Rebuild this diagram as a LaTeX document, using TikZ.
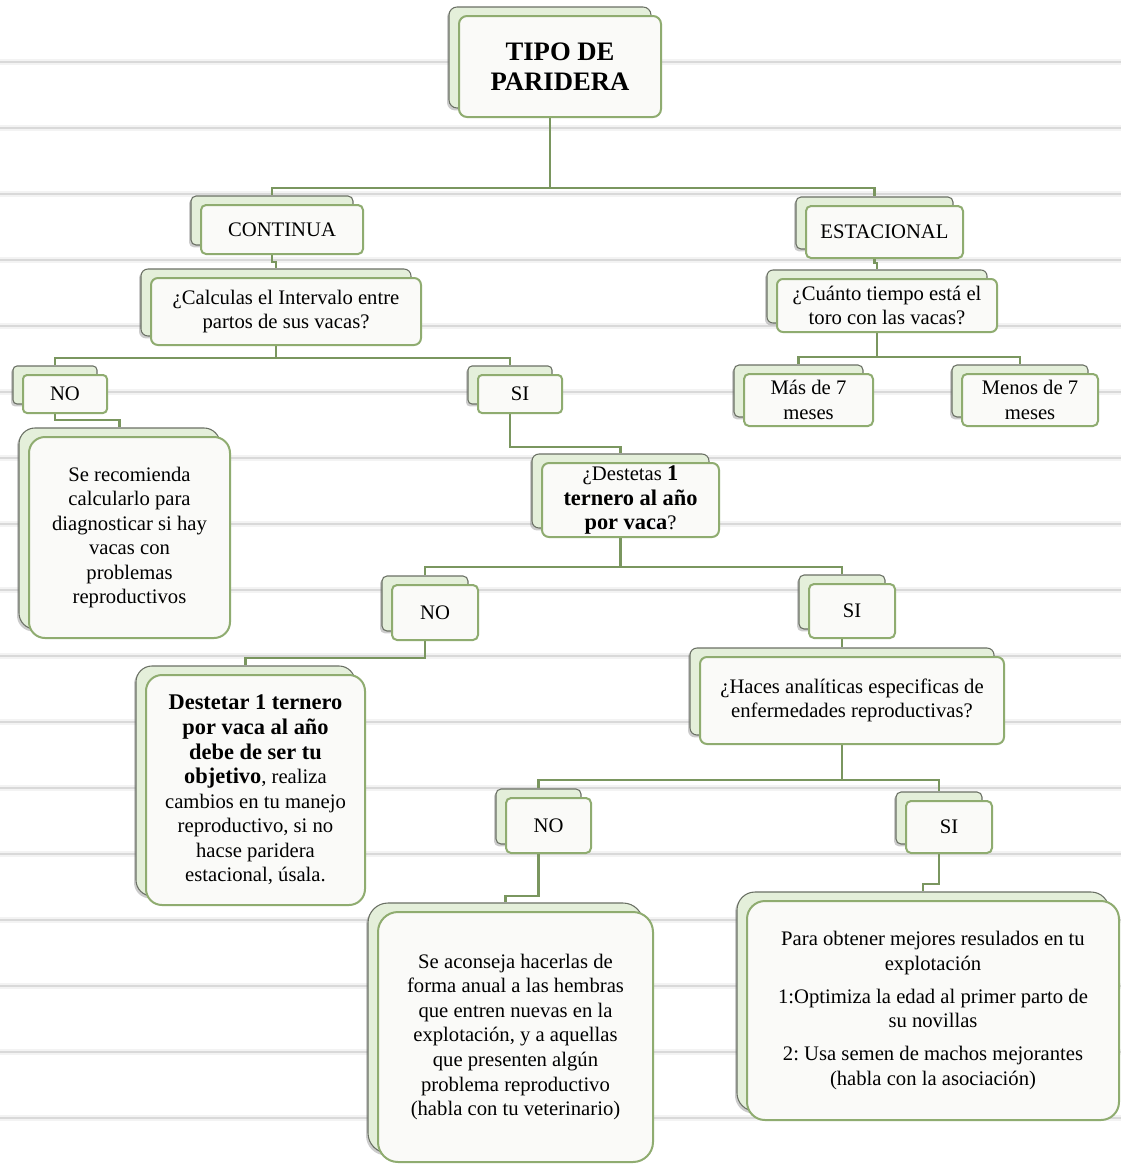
\documentclass[tikz,border=0pt]{standalone}
\usepackage{fontspec}
\setmainfont{Liberation Serif}
\usetikzlibrary{shadows}
\definecolor{boxgreen}{HTML}{8FAC70}
\definecolor{backfill}{HTML}{E4EFDA}
\definecolor{backline}{HTML}{6A7064}
\definecolor{connc}{HTML}{7A965F}
\definecolor{paperc}{HTML}{D9D9D9}
\definecolor{paperhalo}{HTML}{F3F3F3}
\definecolor{frontfill}{HTML}{FAFAF8}
\pgfdeclarelayer{paperlayer}
\pgfdeclarelayer{connlayer}
\pgfsetlayers{paperlayer,connlayer,main}
\frenchspacing
\tikzset{
  backbox/.style={draw=backline, fill=backfill, line width=0.8pt, inner sep=0pt,
    drop shadow={shadow xshift=-1.5pt, shadow yshift=-1.8pt, opacity=0.4}},
  frontbox/.style={draw=boxgreen, fill=frontfill, line width=1.5pt, inner sep=0pt,
    align=center, font=\fontsize{15.5}{18.4}\selectfont},
  connline/.style={draw=connc, line width=2.2pt},
  paperhaloline/.style={draw=paperhalo, line width=5pt},
  paperline/.style={draw=paperc, line width=1.5pt}
}
\newcommand\bigb[1]{{\fontsize{16.8}{18.4}\selectfont\bfseries #1}}
% name, x1, y1, x2, y2, radius(px), extra style, text
\newcommand\stk[8]{%
  \pgfmathsetmacro\stkw{(#4-#2)*0.75}%
  \pgfmathsetmacro\stkh{(#5-#3)*0.75}%
  \pgfmathsetmacro\stkr{#6*0.75}%
  \node[backbox, minimum width=\stkw pt, minimum height=\stkh pt,
        rounded corners=\stkr pt] (#1b) at ({(#2+#4)/2-10},{(#3+#5)/2-9}) {};
  \node[frontbox, minimum width=\stkw pt, minimum height=\stkh pt,
        rounded corners=\stkr pt, #7] (#1) at ({(#2+#4)/2},{(#3+#5)/2}) {#8};
}
\newcommand\conn[3]{%
  \draw[connline] (#1.south) -- (#1.south |- 0,#2) -| (#3.north);
}
\begin{document}
\begin{tikzpicture}[x=0.75pt,y=-0.75pt]
\useasboundingbox (0,0) rectangle (1121,1164);
\begin{pgfonlayer}{paperlayer}
  \fill[white] (0,0) rectangle (1121,1164);
  \foreach \yy in {62,128,...,1120} {
    \draw[paperhaloline] (0,\yy) -- (1121,\yy);
    \draw[paperline] (0,\yy) -- (1121,\yy);
  }
\end{pgfonlayer}

\stk{tipo}{459}{16}{661}{117}{8}{font=\fontsize{20}{22.5}\selectfont\bfseries}{TIPO DE\\PARIDERA}
\stk{cont}{201}{205}{363}{254}{5}{}{CONTINUA}
\stk{esta}{806}{206}{963}{258}{5}{}{ESTACIONAL}
\stk{calc}{151}{278}{421}{345}{7}{}{¿Calculas el Intervalo entre\\partos de sus vacas?}
\stk{cuan}{777}{279}{997}{332}{6}{}{¿Cuánto tiempo está el\\toro con las vacas?}
\stk{noa}{23}{375}{107}{413}{4}{}{NO}
\stk{sia}{478}{375}{562}{413}{4}{}{SI}
\stk{mas}{744}{374}{873}{426}{5}{}{Más de 7\\meses}
\stk{menos}{962}{374}{1098}{426}{5}{}{Menos de 7\\meses}
\stk{reco}{29}{437}{230}{638}{16}{}{Se recomienda\\calcularlo para\\diagnosticar si hay\\vacas con\\problemas\\reproductivos}
\stk{dest}{542}{463}{719}{537}{7}{}{¿Destetas \bigb{1}\\\bigb{ternero al año}\\\bigb{por vaca}?}
\stk{nob}{392}{585}{478}{640}{5}{}{NO}
\stk{sib}{809}{584}{895}{638}{5}{}{SI}
\stk{haces}{700}{657}{1004}{744}{7}{}{¿Haces analíticas especificas de\\enfermedades reproductivas?}
\stk{obj}{146}{675}{365}{905}{16}{}{\bigb{Destetar 1 ternero}\\\bigb{por vaca al año}\\\bigb{debe de ser tu}\\\bigb{objetivo}, realiza\\cambios en tu manejo\\reproductivo, si no\\hacse paridera\\estacional, úsala.}
\stk{noc}{506}{798}{591}{853}{5}{}{NO}
\stk{sic}{906}{801}{992}{853}{5}{}{SI}
\stk{acon}{378}{912}{653}{1162}{20}{}{Se aconseja hacerlas de\\forma anual a las hembras\\que entren nuevas en la\\explotación, y a aquellas\\que presenten algún\\problema reproductivo\\(habla con tu veterinario)}
\stk{para}{747}{901}{1119}{1120}{18}{}{Para obtener mejores resulados en tu\\explotación\\[6.5pt]1:Optimiza la edad al primer parto de\\su novillas\\[6.5pt]2: Usa semen de machos mejorantes\\(habla con la asociación)}

\begin{pgfonlayer}{connlayer}
  \conn{tipob}{188}{contb}
  \conn{tipob}{188}{estab}
  \conn{contb}{262}{calcb}
  \conn{estab}{263}{cuanb}
  \conn{calcb}{358}{noab}
  \conn{calcb}{358}{siab}
  \conn{cuanb}{357}{masb}
  \conn{cuanb}{357}{menosb}
  \conn{noab}{420}{recob}
  \conn{siab}{447}{destb}
  \conn{destb}{567}{nobb}
  \conn{destb}{567}{sibb}
  \conn{nobb}{658}{objb}
  \conn{sibb}{645}{hacesb}
  \conn{hacesb}{780}{nocb}
  \conn{hacesb}{780}{sicb}
  \conn{nocb}{896}{aconb}
  \conn{sicb}{884}{parab}
\end{pgfonlayer}
\end{tikzpicture}
\end{document}
